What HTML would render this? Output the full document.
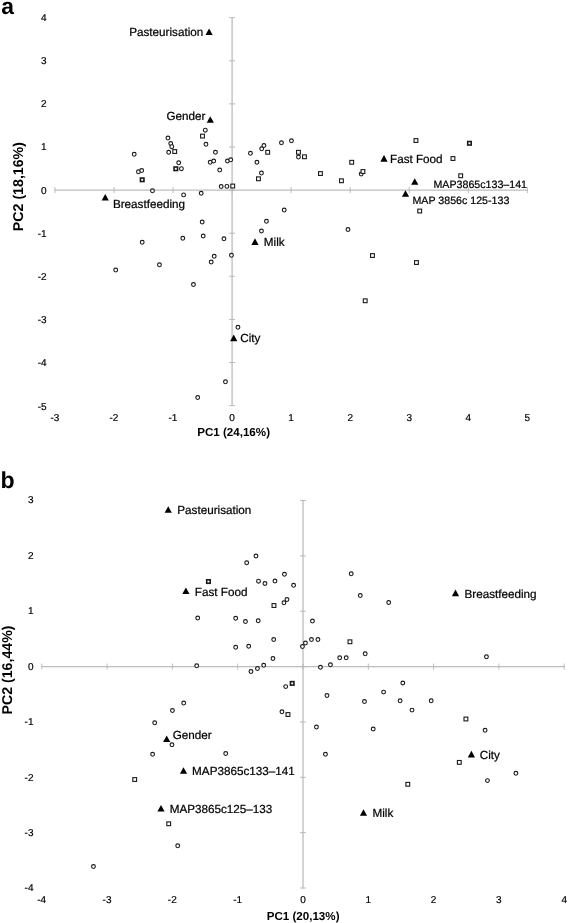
<!DOCTYPE html>
<html lang="en">
<head>
<meta charset="utf-8">
<title>PCA biplots</title>
<style>
html,body{margin:0;padding:0;background:#fff;}
body{width:568px;height:923px;overflow:hidden;}
svg{display:block;will-change:transform;}
</style>
</head>
<body>
<svg width="568" height="923" viewBox="0 0 568 923" text-rendering="geometricPrecision">
<rect width="568" height="923" fill="#fff"/>
<g stroke="#bdbdbd" stroke-width="1.25" fill="none">
<line x1="54.45" y1="190.2" x2="527.85" y2="190.2"/>
<line x1="41.30" y1="666.6" x2="564.70" y2="666.6"/>
</g>
<g stroke="#c6c6c6" stroke-width="1.5" fill="none">
<line x1="232.1" y1="17.20" x2="232.1" y2="406.10"/>
<line x1="303.0" y1="500.05" x2="303.0" y2="888.50"/>
</g>
<g stroke="#b6b6b6" stroke-width="0.9" fill="none">
<line x1="54.95" y1="187.1" x2="54.95" y2="193.1"/>
<line x1="114.00" y1="187.1" x2="114.00" y2="193.1"/>
<line x1="173.05" y1="187.1" x2="173.05" y2="193.1"/>
<line x1="232.10" y1="187.1" x2="232.10" y2="193.1"/>
<line x1="291.15" y1="187.1" x2="291.15" y2="193.1"/>
<line x1="350.20" y1="187.1" x2="350.20" y2="193.1"/>
<line x1="409.25" y1="187.1" x2="409.25" y2="193.1"/>
<line x1="468.30" y1="187.1" x2="468.30" y2="193.1"/>
<line x1="527.35" y1="187.1" x2="527.35" y2="193.1"/>
<line x1="229.1" y1="405.60" x2="235.1" y2="405.60"/>
<line x1="229.1" y1="362.50" x2="235.1" y2="362.50"/>
<line x1="229.1" y1="319.40" x2="235.1" y2="319.40"/>
<line x1="229.1" y1="276.30" x2="235.1" y2="276.30"/>
<line x1="229.1" y1="233.20" x2="235.1" y2="233.20"/>
<line x1="229.1" y1="190.10" x2="235.1" y2="190.10"/>
<line x1="229.1" y1="147.00" x2="235.1" y2="147.00"/>
<line x1="229.1" y1="103.90" x2="235.1" y2="103.90"/>
<line x1="229.1" y1="60.80" x2="235.1" y2="60.80"/>
<line x1="229.1" y1="17.70" x2="235.1" y2="17.70"/>
<line x1="41.80" y1="663.6" x2="41.80" y2="669.6"/>
<line x1="107.10" y1="663.6" x2="107.10" y2="669.6"/>
<line x1="172.40" y1="663.6" x2="172.40" y2="669.6"/>
<line x1="237.70" y1="663.6" x2="237.70" y2="669.6"/>
<line x1="303.00" y1="663.6" x2="303.00" y2="669.6"/>
<line x1="368.30" y1="663.6" x2="368.30" y2="669.6"/>
<line x1="433.60" y1="663.6" x2="433.60" y2="669.6"/>
<line x1="498.90" y1="663.6" x2="498.90" y2="669.6"/>
<line x1="564.20" y1="663.6" x2="564.20" y2="669.6"/>
<line x1="300.0" y1="888.00" x2="306.0" y2="888.00"/>
<line x1="300.0" y1="832.65" x2="306.0" y2="832.65"/>
<line x1="300.0" y1="777.30" x2="306.0" y2="777.30"/>
<line x1="300.0" y1="721.95" x2="306.0" y2="721.95"/>
<line x1="300.0" y1="666.60" x2="306.0" y2="666.60"/>
<line x1="300.0" y1="611.25" x2="306.0" y2="611.25"/>
<line x1="300.0" y1="555.90" x2="306.0" y2="555.90"/>
<line x1="300.0" y1="500.55" x2="306.0" y2="500.55"/>
</g>
<g font-family="'Liberation Sans', Arial, sans-serif" font-size="10" fill="#000" stroke="#000" stroke-width="0.2">
<g text-anchor="end">
<text x="46.6" y="409.56">-5</text>
<text x="46.6" y="366.37">-4</text>
<text x="46.6" y="323.18">-3</text>
<text x="46.6" y="279.99">-2</text>
<text x="46.6" y="236.80">-1</text>
<text x="46.6" y="193.61">0</text>
<text x="46.6" y="150.42">1</text>
<text x="46.6" y="107.23">2</text>
<text x="46.6" y="64.04">3</text>
<text x="46.6" y="20.85">4</text>
<text x="33.5" y="891.47">-4</text>
<text x="33.5" y="836.03">-3</text>
<text x="33.5" y="780.59">-2</text>
<text x="33.5" y="725.15">-1</text>
<text x="33.5" y="669.71">0</text>
<text x="33.5" y="614.27">1</text>
<text x="33.5" y="558.83">2</text>
<text x="33.5" y="503.39">3</text>
</g>
<g text-anchor="middle">
<text x="54.85" y="421.2">-3</text>
<text x="113.90" y="421.2">-2</text>
<text x="172.95" y="421.2">-1</text>
<text x="232.10" y="421.2">0</text>
<text x="291.15" y="421.2">1</text>
<text x="350.20" y="421.2">2</text>
<text x="409.25" y="421.2">3</text>
<text x="468.30" y="421.2">4</text>
<text x="527.35" y="421.2">5</text>
<text x="41.70" y="903.4">-4</text>
<text x="107.00" y="903.4">-3</text>
<text x="172.30" y="903.4">-2</text>
<text x="237.60" y="903.4">-1</text>
<text x="303.00" y="903.4">0</text>
<text x="368.30" y="903.4">1</text>
<text x="433.60" y="903.4">2</text>
<text x="498.90" y="903.4">3</text>
<text x="564.20" y="903.4">4</text>
</g></g>
<g transform="translate(0.2,0.28)" shape-rendering="geometricPrecision">
<g fill="#fff" stroke="#1a1a1a" stroke-width="1.1">
<circle cx="134.00" cy="154.00" r="1.9"/>
<circle cx="138.25" cy="171.50" r="1.9"/>
<circle cx="141.50" cy="170.25" r="1.9"/>
<circle cx="152.25" cy="190.50" r="1.9"/>
<circle cx="167.75" cy="137.75" r="1.9"/>
<circle cx="170.50" cy="143.25" r="1.9"/>
<circle cx="171.60" cy="146.40" r="1.9"/>
<circle cx="168.50" cy="152.00" r="1.9"/>
<circle cx="178.50" cy="162.50" r="1.9"/>
<circle cx="181.20" cy="168.40" r="1.9"/>
<circle cx="183.40" cy="194.60" r="1.9"/>
<circle cx="201.00" cy="193.00" r="1.9"/>
<circle cx="205.10" cy="129.90" r="1.9"/>
<circle cx="205.75" cy="144.00" r="1.9"/>
<circle cx="215.25" cy="152.00" r="1.9"/>
<circle cx="210.00" cy="162.00" r="1.9"/>
<circle cx="213.50" cy="160.75" r="1.9"/>
<circle cx="219.50" cy="169.75" r="1.9"/>
<circle cx="227.25" cy="160.75" r="1.9"/>
<circle cx="230.50" cy="159.50" r="1.9"/>
<circle cx="221.00" cy="186.25" r="1.9"/>
<circle cx="226.70" cy="186.10" r="1.9"/>
<circle cx="250.25" cy="153.00" r="1.9"/>
<circle cx="256.75" cy="162.00" r="1.9"/>
<circle cx="261.50" cy="148.50" r="1.9"/>
<circle cx="263.75" cy="145.25" r="1.9"/>
<circle cx="261.25" cy="172.75" r="1.9"/>
<circle cx="281.25" cy="142.50" r="1.9"/>
<circle cx="291.25" cy="140.50" r="1.9"/>
<circle cx="298.25" cy="156.75" r="1.9"/>
<circle cx="361.00" cy="173.75" r="1.9"/>
<circle cx="142.00" cy="242.00" r="1.9"/>
<circle cx="115.50" cy="269.75" r="1.9"/>
<circle cx="159.25" cy="264.50" r="1.9"/>
<circle cx="182.60" cy="238.00" r="1.9"/>
<circle cx="202.00" cy="221.75" r="1.9"/>
<circle cx="203.00" cy="235.75" r="1.9"/>
<circle cx="223.75" cy="238.50" r="1.9"/>
<circle cx="214.00" cy="256.00" r="1.9"/>
<circle cx="211.00" cy="261.75" r="1.9"/>
<circle cx="231.25" cy="255.00" r="1.9"/>
<circle cx="193.25" cy="284.25" r="1.9"/>
<circle cx="284.00" cy="209.75" r="1.9"/>
<circle cx="266.25" cy="221.00" r="1.9"/>
<circle cx="261.25" cy="230.75" r="1.9"/>
<circle cx="347.75" cy="229.25" r="1.9"/>
<circle cx="237.75" cy="327.00" r="1.9"/>
<circle cx="225.25" cy="381.50" r="1.9"/>
<circle cx="197.50" cy="397.25" r="1.9"/>
<rect x="172.60" y="149.35" width="3.8" height="3.8"/>
<rect x="200.40" y="133.90" width="3.8" height="3.8"/>
<rect x="230.60" y="183.85" width="3.8" height="3.8"/>
<rect x="265.60" y="150.10" width="3.8" height="3.8"/>
<rect x="256.35" y="176.60" width="3.8" height="3.8"/>
<rect x="296.35" y="150.10" width="3.8" height="3.8"/>
<rect x="302.35" y="154.60" width="3.8" height="3.8"/>
<rect x="318.35" y="171.35" width="3.8" height="3.8"/>
<rect x="339.35" y="178.60" width="3.8" height="3.8"/>
<rect x="349.60" y="160.10" width="3.8" height="3.8"/>
<rect x="360.85" y="169.35" width="3.8" height="3.8"/>
<rect x="413.85" y="138.35" width="3.8" height="3.8"/>
<rect x="450.85" y="156.35" width="3.8" height="3.8"/>
<rect x="458.60" y="173.60" width="3.8" height="3.8"/>
<rect x="417.60" y="208.85" width="3.8" height="3.8"/>
<rect x="370.35" y="253.35" width="3.8" height="3.8"/>
<rect x="414.35" y="260.35" width="3.8" height="3.8"/>
<rect x="363.10" y="298.60" width="3.8" height="3.8"/>
<circle cx="255.75" cy="555.75" r="1.9"/>
<circle cx="246.50" cy="562.50" r="1.9"/>
<circle cx="258.30" cy="580.90" r="1.9"/>
<circle cx="264.75" cy="583.20" r="1.9"/>
<circle cx="274.75" cy="580.75" r="1.9"/>
<circle cx="284.25" cy="574.00" r="1.9"/>
<circle cx="293.40" cy="585.00" r="1.9"/>
<circle cx="351.00" cy="573.50" r="1.9"/>
<circle cx="360.10" cy="595.25" r="1.9"/>
<circle cx="388.50" cy="602.25" r="1.9"/>
<circle cx="286.75" cy="599.25" r="1.9"/>
<circle cx="283.75" cy="602.50" r="1.9"/>
<circle cx="197.50" cy="617.75" r="1.9"/>
<circle cx="235.50" cy="618.00" r="1.9"/>
<circle cx="245.25" cy="621.25" r="1.9"/>
<circle cx="258.00" cy="620.50" r="1.9"/>
<circle cx="312.25" cy="620.75" r="1.9"/>
<circle cx="235.50" cy="647.00" r="1.9"/>
<circle cx="248.50" cy="646.00" r="1.9"/>
<circle cx="273.50" cy="639.25" r="1.9"/>
<circle cx="311.25" cy="639.25" r="1.9"/>
<circle cx="317.75" cy="639.25" r="1.9"/>
<circle cx="305.25" cy="642.75" r="1.9"/>
<circle cx="302.25" cy="646.25" r="1.9"/>
<circle cx="365.00" cy="653.50" r="1.9"/>
<circle cx="339.50" cy="657.50" r="1.9"/>
<circle cx="346.00" cy="657.50" r="1.9"/>
<circle cx="272.75" cy="658.25" r="1.9"/>
<circle cx="330.25" cy="664.50" r="1.9"/>
<circle cx="320.25" cy="667.00" r="1.9"/>
<circle cx="196.50" cy="665.50" r="1.9"/>
<circle cx="250.75" cy="671.25" r="1.9"/>
<circle cx="257.25" cy="668.25" r="1.9"/>
<circle cx="263.50" cy="665.00" r="1.9"/>
<circle cx="486.25" cy="656.50" r="1.9"/>
<circle cx="402.60" cy="682.70" r="1.9"/>
<circle cx="383.40" cy="691.80" r="1.9"/>
<circle cx="154.50" cy="722.50" r="1.9"/>
<circle cx="152.40" cy="754.00" r="1.9"/>
<circle cx="172.25" cy="710.25" r="1.9"/>
<circle cx="183.50" cy="702.75" r="1.9"/>
<circle cx="171.75" cy="744.50" r="1.9"/>
<circle cx="225.50" cy="753.25" r="1.9"/>
<circle cx="177.50" cy="845.50" r="1.9"/>
<circle cx="93.25" cy="866.25" r="1.9"/>
<circle cx="285.50" cy="686.30" r="1.9"/>
<circle cx="281.75" cy="711.50" r="1.9"/>
<circle cx="326.75" cy="695.25" r="1.9"/>
<circle cx="316.25" cy="726.75" r="1.9"/>
<circle cx="325.25" cy="754.00" r="1.9"/>
<circle cx="364.25" cy="701.25" r="1.9"/>
<circle cx="373.00" cy="728.75" r="1.9"/>
<circle cx="399.90" cy="700.50" r="1.9"/>
<circle cx="431.00" cy="700.50" r="1.9"/>
<circle cx="411.80" cy="709.80" r="1.9"/>
<circle cx="484.90" cy="730.00" r="1.9"/>
<circle cx="515.70" cy="773.00" r="1.9"/>
<circle cx="487.25" cy="780.30" r="1.9"/>
<rect x="271.85" y="603.35" width="3.8" height="3.8"/>
<rect x="347.85" y="639.60" width="3.8" height="3.8"/>
<rect x="132.60" y="777.35" width="3.8" height="3.8"/>
<rect x="166.60" y="821.60" width="3.8" height="3.8"/>
<rect x="285.85" y="712.35" width="3.8" height="3.8"/>
<rect x="463.80" y="716.80" width="3.8" height="3.8"/>
<rect x="457.20" y="760.20" width="3.8" height="3.8"/>
<rect x="405.70" y="782.10" width="3.8" height="3.8"/>
<rect x="140.25" y="177.75" width="3.5" height="3.5" stroke-width="1.6"/>
<rect x="173.85" y="166.75" width="3.5" height="3.5" stroke-width="1.6"/>
<rect x="467.50" y="141.25" width="3.5" height="3.5" stroke-width="1.6"/>
<rect x="206.50" y="579.50" width="3.5" height="3.5" stroke-width="1.6"/>
<rect x="290.25" y="681.35" width="3.5" height="3.5" stroke-width="1.6"/>
</g>
</g>
<g fill="#000">
<polygon points="209.10,28.50 212.70,35.10 205.50,35.10"/>
<polygon points="210.30,116.20 213.90,122.80 206.70,122.80"/>
<polygon points="105.25,194.00 108.85,200.60 101.65,200.60"/>
<polygon points="384.00,155.10 387.60,161.70 380.40,161.70"/>
<polygon points="414.75,178.20 418.35,184.80 411.15,184.80"/>
<polygon points="405.50,190.20 409.10,196.80 401.90,196.80"/>
<polygon points="255.00,238.30 258.60,244.90 251.40,244.90"/>
<polygon points="233.75,334.60 237.35,341.20 230.15,341.20"/>
<polygon points="168.25,506.20 171.85,512.80 164.65,512.80"/>
<polygon points="185.90,587.50 189.50,594.10 182.30,594.10"/>
<polygon points="455.50,589.60 459.10,596.20 451.90,596.20"/>
<polygon points="166.70,735.40 170.30,742.00 163.10,742.00"/>
<polygon points="183.50,767.20 187.10,773.80 179.90,773.80"/>
<polygon points="161.00,805.00 164.60,811.60 157.40,811.60"/>
<polygon points="471.40,750.80 475.00,757.40 467.80,757.40"/>
<polygon points="363.50,809.20 367.10,815.80 359.90,815.80"/>
</g>
<g font-family="'Liberation Sans', Arial, sans-serif" font-size="11.7" fill="#000" stroke="#000" stroke-width="0.22">
<text x="129.20" y="36.10" text-anchor="start">Pasteurisation</text>
<text x="205.50" y="120.20" text-anchor="end">Gender</text>
<text x="112.90" y="207.50" text-anchor="start">Breastfeeding</text>
<text x="390.00" y="162.50" text-anchor="start">Fast Food</text>
<text x="433.50" y="187.50" text-anchor="start" font-size="10.65">MAP3865c133–141</text>
<text x="412.50" y="204.40" text-anchor="start" font-size="10.65">MAP 3856c 125-133</text>
<text x="263.80" y="245.90" text-anchor="start">Milk</text>
<text x="240.30" y="342.00" text-anchor="start">City</text>
<text x="177.30" y="514.00" text-anchor="start">Pasteurisation</text>
<text x="194.80" y="596.00" text-anchor="start">Fast Food</text>
<text x="464.50" y="597.70" text-anchor="start">Breastfeeding</text>
<text x="172.70" y="739.10" text-anchor="start">Gender</text>
<text x="192.10" y="774.50" text-anchor="start">MAP3865c133–141</text>
<text x="169.70" y="813.00" text-anchor="start">MAP3865c125–133</text>
<text x="479.80" y="759.10" text-anchor="start">City</text>
<text x="372.50" y="816.90" text-anchor="start">Milk</text>
</g>
<g font-family="'Liberation Sans', Arial, sans-serif" font-weight="bold" fill="#000">
<text x="233.6" y="435.6" font-size="11.6" text-anchor="middle">PC1 (24,16%)</text>
<text x="303.1" y="919.6" font-size="11.6" text-anchor="middle">PC1 (20,13%)</text>
<text transform="translate(23,186.6) rotate(-90)" font-size="14.2" text-anchor="middle">PC2 (18,16%)</text>
<text transform="translate(12.1,670) rotate(-90)" font-size="14.2" text-anchor="middle">PC2 (16,44%)</text>
<text x="1.3" y="14.0" font-size="22.9" fill="#000">a</text>
<text x="0.6" y="487.7" font-size="23.2" fill="#000">b</text>
</g>
</svg>
</body>
</html>
